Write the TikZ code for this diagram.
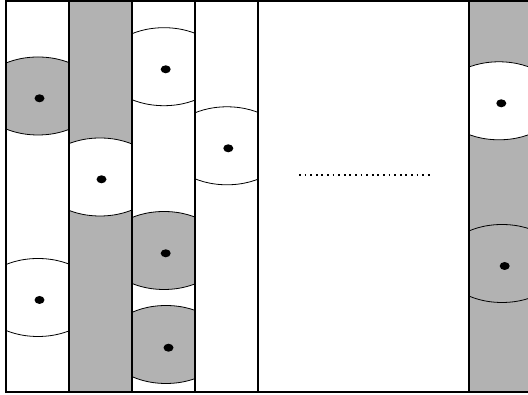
\documentclass[tikz,border=0pt]{standalone}
\begin{document}
\begin{tikzpicture}[x=1pt,y=1pt,
  colline/.style={line width=2pt,black},
  zone/.style={line width=0.8pt,black},
]
\definecolor{zonegray}{gray}{0.70}
\useasboundingbox (0,0) rectangle (528,395);
\clip (0,0) rectangle (528,395);
% column backgrounds
\fill[zonegray] (69,2) rectangle (132,393);
\fill[zonegray] (469,2) rectangle (530,393);
% zones, clipped to their columns
\newcommand{\zonein}[6]{% x0,x1,cx,cy,fill,dot
  \begin{scope}
    \clip (#1,2) rectangle (#2,393);
    \filldraw[zone,fill=#5] (#3,#4) ellipse [x radius=60,y radius=39];
  \end{scope}
  \fill (#6) ellipse [x radius=5,y radius=4];
}
\zonein{6}{69}{38}{299}{zonegray}{39.5,296.7}
\zonein{6}{69}{38}{97.5}{white}{39.5,95}
\zonein{69}{132}{100}{218}{white}{101.5,215.7}
\zonein{132}{195}{164}{328.3}{white}{165.7,325.7}
\zonein{132}{195}{164}{144.5}{zonegray}{165.7,141.7}
\zonein{132}{195}{166}{50.5}{zonegray}{168.5,47.3}
\zonein{195}{258}{227}{249.2}{white}{228.3,246.7}
\zonein{469}{530}{499}{294.2}{white}{501.3,291.7}
\zonein{469}{530}{502}{131.5}{zonegray}{504.7,129}
% dotted line
\coordinate (d1) at (299,220.3);
\coordinate (d2) at (430,220.3);
\draw[line width=1.8pt,dash pattern=on 1.8pt off 3.8pt] (d1) -- (d2);
% column separators
\foreach \x in {69,132,195,258,469} \draw[colline] (\x,2) -- (\x,393.5);
% frame
\draw[colline] (530,393.5) -- (6,393.5) -- (6,3) -- (530,3);
\end{tikzpicture}
\end{document}
